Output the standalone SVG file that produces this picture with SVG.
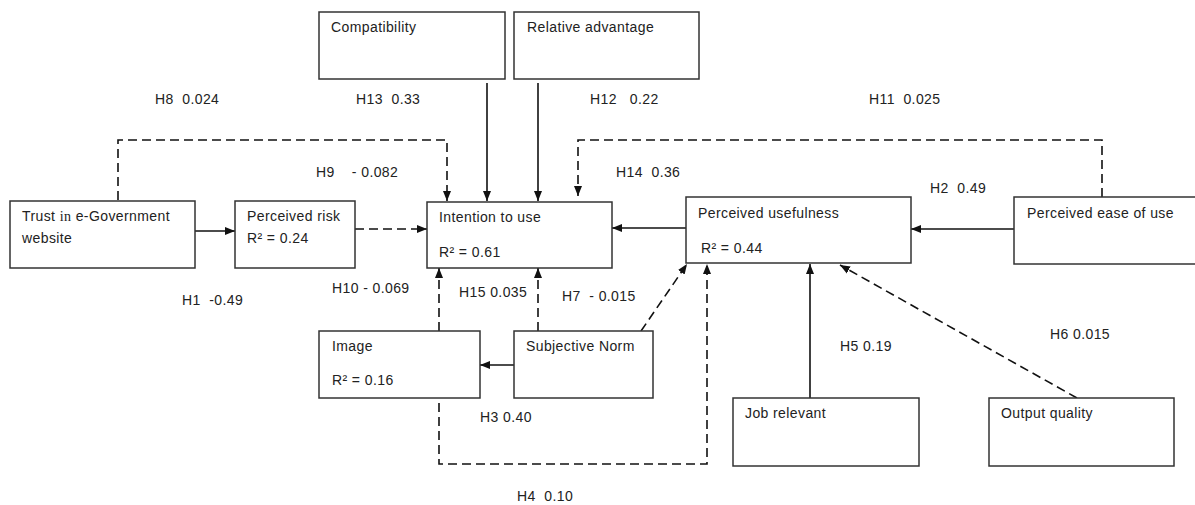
<svg xmlns="http://www.w3.org/2000/svg" width="1195" height="505" viewBox="0 0 1195 505" xml:space="preserve">
<style>
.box{fill:#fff;stroke:#333;stroke-width:1.5}
.t{font-family:"Liberation Sans",Arial,sans-serif;font-size:14px;fill:#222;letter-spacing:0.4px;white-space:pre}
.c{fill:none;stroke:#111;stroke-width:1.6}
.d{stroke-dasharray:9 5}
</style>
<defs>
<marker id="ah" markerUnits="userSpaceOnUse" markerWidth="10" markerHeight="10" viewBox="0 0 10 10" refX="10" refY="5" orient="auto">
<path d="M0,1 L10,5 L0,9 Z" fill="#111"/>
</marker>
</defs>
<rect width="1195" height="505" fill="#fff"/>
<g id="connectors">
<path class="c" d="M195,231 H235" marker-end="url(#ah)"/>
<path class="c d" d="M118,200 V140 H447 V201" marker-end="url(#ah)"/>
<path class="c" d="M487,83 V201" marker-end="url(#ah)"/>
<path class="c" d="M538,83 V201" marker-end="url(#ah)"/>
<path class="c d" d="M1102,197 V140 H578 V196" marker-end="url(#ah)"/>
<path class="c d" d="M355,229 H427" marker-end="url(#ah)"/>
<path class="c" d="M686,228 H612" marker-end="url(#ah)"/>
<path class="c" d="M1014,229 H911" marker-end="url(#ah)"/>
<path class="c d" d="M439,331 V268" marker-end="url(#ah)"/>
<path class="c d" d="M538,331 V268" marker-end="url(#ah)"/>
<path class="c" d="M514,365 H480" marker-end="url(#ah)"/>
<path class="c d" d="M641,331 L687,264" marker-end="url(#ah)"/>
<path class="c d" d="M439,403 V464 H707 V264" marker-end="url(#ah)"/>
<path class="c" d="M810,398 V264" marker-end="url(#ah)"/>
<path class="c d" d="M1077,398 L840,265" marker-end="url(#ah)"/>
</g>
<g id="trust">
<rect class="box" x="10" y="201" width="185" height="67"/>
<text class="t" x="22" y="221">Trust <tspan font-family="'Liberation Serif',serif">in</tspan> e-Government</text>
<text class="t" x="22" y="243">website</text>
</g>
<g id="risk">
<rect class="box" x="235" y="201" width="120" height="67"/>
<text class="t" x="247" y="221">Perceived risk</text>
<text class="t" x="247" y="243">R² = 0.24</text>
</g>
<g id="compatibility">
<rect class="box" x="319" y="12" width="186" height="67"/>
<text class="t" x="331" y="32">Compatibility</text>
</g>
<g id="relative-advantage">
<rect class="box" x="514" y="12" width="185" height="67"/>
<text class="t" x="527" y="32">Relative advantage</text>
</g>
<g id="intention">
<rect class="box" x="427" y="202" width="185" height="66"/>
<text class="t" x="439" y="222">Intention to use</text>
<text class="t" x="439" y="257">R² = 0.61</text>
</g>
<g id="usefulness">
<rect class="box" x="686" y="197" width="225" height="66"/>
<text class="t" x="698" y="218">Perceived usefulness</text>
<text class="t" x="701" y="253">R² = 0.44</text>
</g>
<g id="ease">
<rect class="box" x="1014" y="197" width="190" height="67"/>
<text class="t" x="1027" y="218">Perceived ease of use</text>
</g>
<g id="image">
<rect class="box" x="319" y="331" width="161" height="67"/>
<text class="t" x="332" y="351">Image</text>
<text class="t" x="332" y="385">R² = 0.16</text>
</g>
<g id="subjective-norm">
<rect class="box" x="514" y="331" width="139" height="67"/>
<text class="t" x="526" y="351">Subjective Norm</text>
</g>
<g id="job">
<rect class="box" x="733" y="398" width="186" height="68"/>
<text class="t" x="745" y="418">Job relevant</text>
</g>
<g id="output">
<rect class="box" x="989" y="398" width="185" height="68"/>
<text class="t" x="1001" y="418">Output quality</text>
</g>
<g id="labels">
<text class="t" x="155" y="104">H8  0.024</text>
<text class="t" x="356" y="104">H13  0.33</text>
<text class="t" x="590" y="104">H12   0.22</text>
<text class="t" x="869" y="104">H11  0.025</text>
<text class="t" x="316" y="177">H9    - 0.082</text>
<text class="t" x="616" y="177">H14  0.36</text>
<text class="t" x="930" y="193">H2  0.49</text>
<text class="t" x="182" y="305">H1  -0.49</text>
<text class="t" x="332" y="293">H10 - 0.069</text>
<text class="t" x="459" y="297">H15 0.035</text>
<text class="t" x="562" y="301">H7  - 0.015</text>
<text class="t" x="840" y="351">H5 0.19</text>
<text class="t" x="1050" y="339">H6 0.015</text>
<text class="t" x="480" y="422">H3 0.40</text>
<text class="t" x="517" y="501">H4  0.10</text>
</g>
</svg>
